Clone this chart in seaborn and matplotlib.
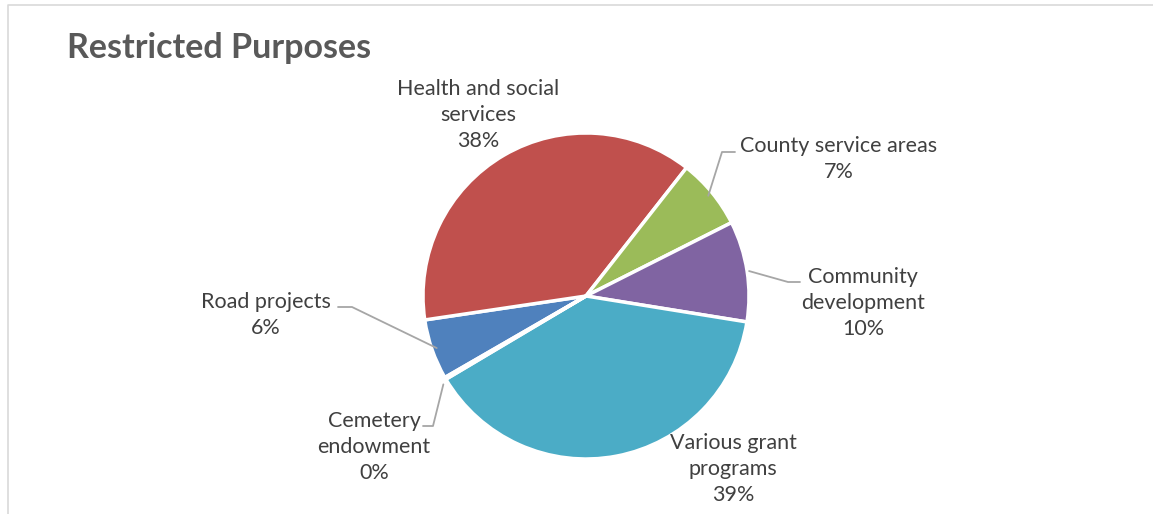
import numpy as np
import matplotlib
matplotlib.use("Agg")
import matplotlib.pyplot as plt
import seaborn as sns

categories = ["Road projects", "Health and social\nservices", "County service areas",
              "Community\ndevelopment", "Various grant\nprograms", "Cemetery\nendowment"]
values = [6.0, 38.0, 7.0, 10.0, 39.0, 0.2]
pct_labels = ["6%", "38%", "7%", "10%", "39%", "0%"]
colors = ["#4F81BD", "#C0504D", "#9BBB59", "#8064A2", "#4BACC6", "#F79646"]

sns.set_theme(style="white")
plt.rcParams['font.family'] = ['Lato', 'DejaVu Sans']

W, H = 1153, 514
fig = plt.figure(figsize=(W / 100, H / 100), dpi=100)
ax = fig.add_axes([0, 0, 1, 1])

# chart border
ax.plot([8, 8, W], [0, H - 5, H - 5], color="#D9D9D9", lw=1.2)

cx, cy, r = 586, H - 296, 163
wedges, _ = ax.pie(values, colors=colors, startangle=210, counterclock=False,
                   center=(cx, cy), radius=r,
                   wedgeprops=dict(edgecolor="white", linewidth=2.5), frame=True)
ax.set_xlim(0, W)
ax.set_ylim(0, H)
ax.set_aspect("equal")
ax.axis("off")

ax.text(67, H - 48, "Restricted Purposes", fontsize=24.5, fontweight="bold",
        color="#595959", va="center", ha="left")

txt = dict(fontsize=15.5, color="#404040", ha="center", va="center", linespacing=1.4)
label_pos = [(266, 315), (478, 115), (839, 159), (863, 303), (733, 469), (374, 447)]
for name, p, (lx, ly) in zip(categories, pct_labels, label_pos):
    ax.text(lx, H - ly, f"{name}\n{p}", **txt)

lc = dict(color="#A6A6A6", lw=1.3)

def wedge_pt(i, frac=0.97):
    w = wedges[i]
    a = np.deg2rad((w.theta1 + w.theta2) / 2)
    return cx + r * frac * np.cos(a), cy + r * frac * np.sin(a)

# Road projects
x1, y1 = wedge_pt(0)
ax.plot([338, 352, x1], [H - 307, H - 307, y1], **lc)
# County service areas
x2, y2 = wedge_pt(2)
ax.plot([735, 722, x2], [H - 152, H - 152, y2], **lc)
# Community development
x3, y3 = wedge_pt(3, 1.0)
ax.plot([800, 788, x3 + 2], [H - 282, H - 282, y3], **lc)
# Cemetery endowment
x5, y5 = wedge_pt(5, 1.0)
ax.plot([423, 433, x5 - 2], [H - 426, H - 426, y5 - 6], **lc)

fig.savefig("out.png", dpi=100)
